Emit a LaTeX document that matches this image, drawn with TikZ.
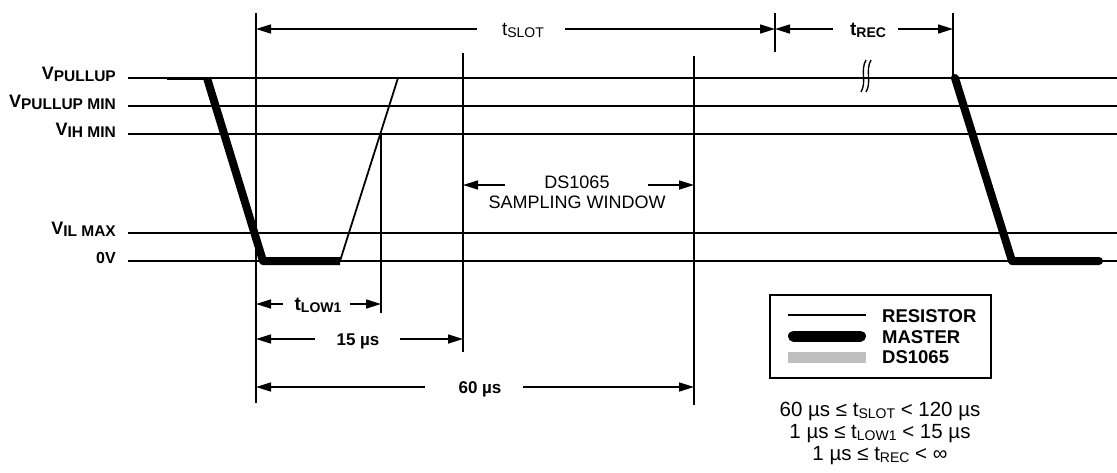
\documentclass[tikz,border=0pt]{standalone}
\usepackage{fontspec}
\setmainfont{Liberation Sans}
\usetikzlibrary{arrows.meta}
\newcommand{\vsig}[1]{{\fontsize{18}{18}\selectfont V}\raisebox{-2.5pt}{\fontsize{15.5}{15.5}\selectfont #1}}
\newcommand{\tsig}[1]{{\fontsize{19}{19}\selectfont t}\raisebox{-2pt}{\fontsize{14}{14}\selectfont #1}}
\newcommand{\tsub}[1]{t\raisebox{-2pt}{\fontsize{14}{14}\selectfont #1}}
\begin{document}
\begin{tikzpicture}[x=1pt,y=-1pt,
  sigline/.style={line width=1.8pt},
  vline/.style={line width=1.8pt},
  masterline/.style={line width=8pt, line join=round},
  dimline/.style={line width=1.6pt, -{Triangle[length=15pt,width=9pt]}},
  lab/.style={font=\bfseries, anchor=base east, inner sep=0pt},
  dimlab/.style={anchor=base, inner sep=0pt},
  legtxt/.style={font=\bfseries\fontsize{18.5}{19}\selectfont, anchor=base west, inner sep=0pt},
  cond/.style={font=\fontsize{20.5}{21}\selectfont, anchor=base, inner sep=0pt}]
\useasboundingbox (0,0) rectangle (1117,472);

% level lines
\foreach \yy in {78,106,134,233,261} \draw[sigline] (128,\yy) -- (1117,\yy);

% left labels
\node[lab] (lpu)  at (116,79)  {\vsig{PULLUP}};
\node[lab] (lpum) at (116,107) {\vsig{PULLUP MIN}};
\node[lab] (lih)  at (116,135) {\vsig{IH MIN}};
\node[lab] (lil)  at (116,234) {\vsig{IL MAX}};
\node[lab, font=\bfseries\fontsize{16}{16}\selectfont] (l0v) at (116,263) {0V};

% vertical reference lines
\coordinate (vAt) at (256,13);  \coordinate (vAb) at (256,403);
\coordinate (vBt) at (381,134); \coordinate (vBb) at (381,313);
\coordinate (vCt) at (463,53);  \coordinate (vCb) at (463,352);
\coordinate (vDt) at (694,56);  \coordinate (vDb) at (694,405);
\coordinate (vEt) at (775,13);  \coordinate (vEb) at (775,52);
\coordinate (vFt) at (953,13);  \coordinate (vFb) at (953,78);
\draw[vline] (vAt) -- (vAb);
\draw[vline] (vBt) -- (vBb);
\draw[vline] (vCt) -- (vCb);
\draw[vline] (vDt) -- (vDb);
\draw[vline] (vEt) -- (vEb);
\draw[vline] (vFt) -- (vFb);

% signals
\draw[line width=3pt] (167,78) -- (207,78);
\draw[masterline] (207,78) -- (263,261) -- (340,261);
\draw[sigline] (340,261) -- (398,78);
\draw[masterline, line cap=round] (955,78) -- (1012,261) -- (1099,261);

% break mark
\draw[line width=1.4pt] (861,92) .. controls (867,82) and (860,70) .. (866,60);
\draw[line width=1.4pt] (866,92) .. controls (872,82) and (865,70) .. (871,60);

% t_SLOT
\node[dimlab, font=\fontsize{16}{16}\selectfont] (tslot) at (523,35) {\tsig{SLOT}};
\coordinate (tslotL) at (477,29); \coordinate (tslotR) at (565,29);
\coordinate (tslotA) at (256,29); \coordinate (tslotB) at (775,29);
\draw[dimline] (tslotL) -- (tslotA);
\draw[dimline] (tslotR) -- (tslotB);

% t_REC
\node[dimlab, font=\bfseries\fontsize{16}{16}\selectfont] (trec) at (868,35) {\tsig{REC}};
\coordinate (trecL) at (833,29); \coordinate (trecR) at (898,29);
\coordinate (trecA) at (775,29); \coordinate (trecB) at (953,29);
\draw[dimline] (trecL) -- (trecA);
\draw[dimline] (trecR) -- (trecB);

% sampling window
\node[dimlab, font=\fontsize{18}{18}\selectfont] (ds) at (577,188) {DS1065};
\node[dimlab, font=\fontsize{18}{18}\selectfont] (sw) at (577,208) {SAMPLING WINDOW};
\coordinate (swL) at (505,185); \coordinate (swR) at (648,185);
\coordinate (swA) at (463,185); \coordinate (swB) at (694,185);
\draw[dimline] (swL) -- (swA);
\draw[dimline] (swR) -- (swB);

% t_LOW1
\node[dimlab, font=\bfseries\fontsize{15}{15}\selectfont] (tlow) at (318,310) {\tsig{LOW1}};
\coordinate (tlowL) at (283,304); \coordinate (tlowR) at (350,304);
\coordinate (tlowA) at (256,304); \coordinate (tlowB) at (381,304);
\draw[dimline] (tlowL) -- (tlowA);
\draw[dimline] (tlowR) -- (tlowB);

% 15 us
\node[dimlab, font=\bfseries\fontsize{17}{17}\selectfont] (t15) at (358,345) {15 µs};
\coordinate (t15L) at (315,339); \coordinate (t15R) at (400,339);
\coordinate (t15A) at (256,339); \coordinate (t15B) at (463,339);
\draw[dimline] (t15L) -- (t15A);
\draw[dimline] (t15R) -- (t15B);

% 60 us
\node[dimlab, font=\bfseries\fontsize{17}{17}\selectfont] (t60) at (480,393) {60 µs};
\coordinate (t60L) at (425,387); \coordinate (t60R) at (523,387);
\coordinate (t60A) at (256,387); \coordinate (t60B) at (694,387);
\draw[dimline] (t60L) -- (t60A);
\draw[dimline] (t60R) -- (t60B);

% legend
\node[draw, line width=1.5pt, minimum width=221pt, minimum height=83pt, inner sep=0pt, anchor=north west] (legend) at (769,294) {};
\draw[line width=1.5pt] (788,315) -- (866,315);
\draw[line width=11pt, line cap=round] (793.5,336) -- (860.5,336);
\draw[line width=11pt, color=black!25] (788,357) -- (866,357);
\node[legtxt] (lres) at (882,322) {RESISTOR};
\node[legtxt] (lmas) at (882,343) {MASTER};
\node[legtxt] (lds)  at (882,363) {DS1065};

% conditions
\node[cond] (c1) at (880,416) {60 µs ≤ \tsub{SLOT} < 120 µs};
\node[cond] (c2) at (880,438) {1 µs ≤ \tsub{LOW1} < 15 µs};
\node[cond] (c3) at (880,460) {1 µs ≤ \tsub{REC} < ∞};
\end{tikzpicture}
\end{document}
